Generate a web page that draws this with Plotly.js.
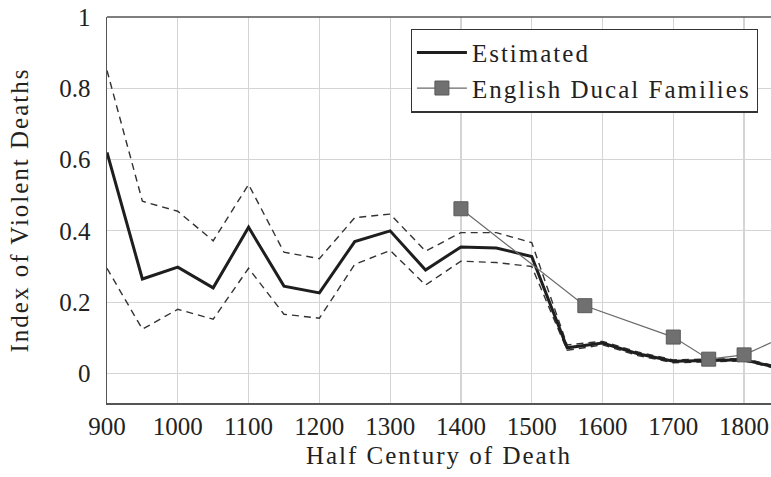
<!DOCTYPE html>
<html><head><meta charset="utf-8">
<script src="https://cdn.plot.ly/plotly-3.0.1.min.js"></script>
<style>
html,body{margin:0;padding:0;background:#fff;}
#chart{width:771px;height:477px;}
.legendtext, .xtitle, .ytitle { letter-spacing: 2px; }
</style>
</head><body><div id="chart"></div>
<script>
const years = [900, 950, 1000, 1050, 1100, 1150, 1200, 1250, 1300, 1350, 1400, 1450, 1500, 1550, 1600, 1650, 1700, 1750, 1800, 1850];
const estimated = [0.62, 0.265, 0.298, 0.24, 0.41, 0.245, 0.226, 0.37, 0.40, 0.29, 0.355, 0.352, 0.328, 0.072, 0.085, 0.055, 0.034, 0.037, 0.038, 0.015];
const upperBound = [0.85, 0.483, 0.455, 0.372, 0.53, 0.34, 0.322, 0.437, 0.447, 0.343, 0.395, 0.395, 0.367, 0.08, 0.09, 0.06, 0.038, 0.04, 0.042, 0.018];
const lowerBound = [0.295, 0.124, 0.18, 0.152, 0.295, 0.166, 0.155, 0.306, 0.345, 0.248, 0.315, 0.311, 0.30, 0.065, 0.08, 0.05, 0.03, 0.033, 0.035, 0.012];
const ducalYears = [1400, 1575, 1700, 1750, 1800, 1850];
const ducalValues = [0.462, 0.19, 0.102, 0.04, 0.052, 0.097];
const xTicks = [900, 1000, 1100, 1200, 1300, 1400, 1500, 1600, 1700, 1800];
const yTicks = [0, 0.2, 0.4, 0.6, 0.8, 1];
const yTickLabels = ['0', '0.2', '0.4', '0.6', '0.8', '1'];

const serif = "'Liberation Serif', 'Times New Roman', serif";
const traces = [
  {x: years, y: upperBound, mode: 'lines', line: {color: '#333', width: 1.4, dash: '7px,5px'}, showlegend: false, hoverinfo: 'skip'},
  {x: years, y: lowerBound, mode: 'lines', line: {color: '#333', width: 1.4, dash: '7px,5px'}, showlegend: false, hoverinfo: 'skip'},
  {x: years, y: estimated, mode: 'lines', name: 'Estimated', line: {color: '#1e1e1e', width: 3}},
  {x: ducalYears, y: ducalValues, mode: 'lines+markers', name: 'English Ducal Families',
   line: {color: '#6a6a6a', width: 1.2}, marker: {symbol: 'square', size: 14, color: '#707070', line: {color: '#5a5a5a', width: 1}}}
];
const layout = {
  width: 771, height: 477,
  margin: {l: 107, r: 0, t: 17, b: 74},
  paper_bgcolor: '#fff', plot_bgcolor: '#fff',
  font: {family: serif, size: 25, color: '#222'},
  xaxis: {range: [900, 1838], tickvals: xTicks, ticktext: xTicks.map(String), showgrid: true, gridcolor: '#d4d4d4', gridwidth: 1.2,
          zeroline: false, showline: true, linecolor: '#555', linewidth: 1.5, mirror: false, ticks: '', ticklabelstandoff: 0,
          tickfont: {family: serif, size: 25, color: '#222'},
          title: {text: 'Half Century of Death', font: {family: serif, size: 25, color: '#222'}, standoff: 8}},
  yaxis: {range: [-0.083, 1.0], tickvals: yTicks, ticktext: yTickLabels, showgrid: true, gridcolor: '#d4d4d4', gridwidth: 1.2,
          zeroline: false, showline: true, linecolor: '#555', linewidth: 1.5, ticks: '', ticklabelstandoff: 10,
          tickfont: {family: serif, size: 25, color: '#222'},
          title: {text: 'Index of Violent Deaths', font: {family: serif, size: 25, color: '#222'}, standoff: 23}},
  shapes: [{type: 'line', xref: 'paper', yref: 'paper', x0: 0, x1: 1, y0: 1, y1: 1, line: {color: '#555', width: 1.5}}],
  legend: {x: 0.98, y: 0.97, xanchor: 'right', yanchor: 'top', bgcolor: '#fff', bordercolor: '#333', borderwidth: 1.2,
           font: {family: serif, size: 25, color: '#222'}, tracegroupgap: 0, itemwidth: 50},
  showlegend: true
};
Plotly.newPlot('chart', traces, layout, {displayModeBar: false, staticPlot: true});
</script></body></html>
